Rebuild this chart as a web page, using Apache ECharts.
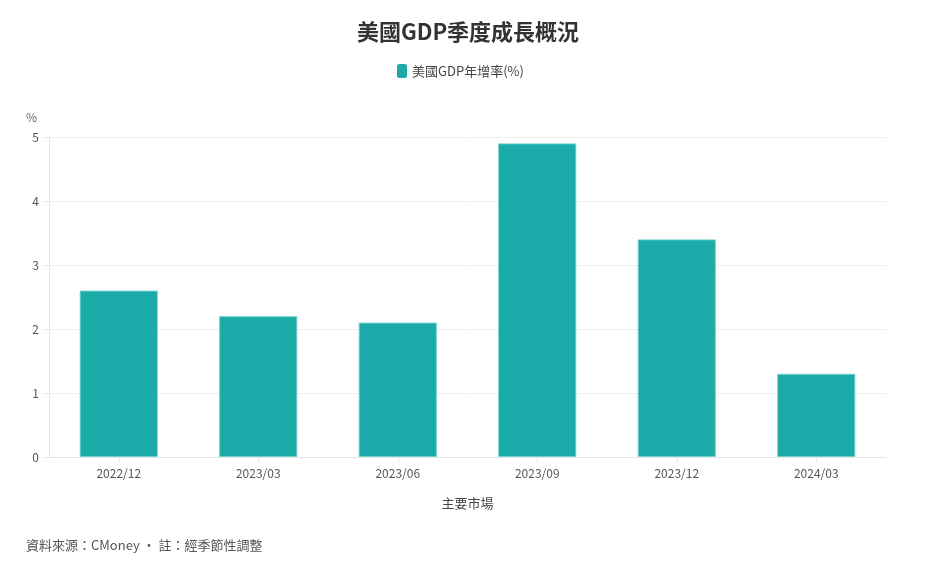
<!DOCTYPE html>
<html><head><meta charset="utf-8">
<script src="https://cdn.jsdelivr.net/npm/echarts@6/dist/echarts.min.js"></script>
<style>html,body{margin:0;padding:0;background:#fff}#c{width:936px;height:575px}</style>
</head><body><div id="c"></div>
<script>
const categories = ['2022/12','2023/03','2023/06','2023/09','2023/12','2024/03'];
const gdpGrowth = [2.6, 2.2, 2.1, 4.9, 3.4, 1.3];
const yTicks = [0, 1, 2, 3, 4, 5];
const seriesName = '美國GDP年增率(%)';
const FONT = '"Noto Sans CJK TC", "Noto Sans", sans-serif';
const chart = echarts.init(document.getElementById('c'));
chart.setOption({
  textStyle: {fontFamily: FONT},
  title: [{
    text: '美國GDP季度成長概況', left: 'center', top: 16,
    textStyle: {fontSize: 22, fontWeight: 'bold', color: '#333', fontFamily: FONT}
  }, {
    text: '資料來源：CMoney • 註：經季節性調整', left: 21, top: 534,
    textStyle: {fontSize: 13, fontWeight: 'normal', color: '#555', fontFamily: FONT}
  }],
  legend: {
    top: 59, left: 392, itemWidth: 10, itemHeight: 14, icon: 'roundRect',
    itemStyle: {borderWidth: 0},
    textStyle: {fontSize: 13, color: '#444', fontFamily: FONT},
    data: [seriesName]
  },
  grid: {left: 49, right: 50, top: 137, bottom: 118},
  xAxis: {
    type: 'category', data: categories,
    name: '主要市場', nameLocation: 'middle', nameGap: 40,
    nameTextStyle: {fontSize: 13, color: '#444'},
    axisLine: {lineStyle: {color: '#e6e6e6'}},
    axisTick: {show: true, alignWithLabel: true, lineStyle: {color: '#e6e6e6'}},
    axisLabel: {fontSize: 12, color: '#555', margin: 10}
  },
  yAxis: {
    type: 'value', min: yTicks[0], max: yTicks[yTicks.length-1], interval: 1,
    name: '%', nameLocation: 'end', nameGap: 14,
    nameTextStyle: {fontSize: 12, color: '#666', align: 'right', padding: [0, 12, 0, 0]},
    axisLine: {show: true, lineStyle: {color: '#e6e6e6'}},
    axisTick: {show: true, lineStyle: {color: '#e6e6e6'}},
    splitLine: {lineStyle: {color: '#eeeeee'}},
    axisLabel: {fontSize: 12, color: '#555', margin: 10}
  },
  series: [{
    name: seriesName, type: 'bar', data: gdpGrowth, barWidth: '56%',
    itemStyle: {color: '#1aaaa7', borderColor: '#6cd0cc', borderWidth: 1}
  }]
});
</script></body></html>
